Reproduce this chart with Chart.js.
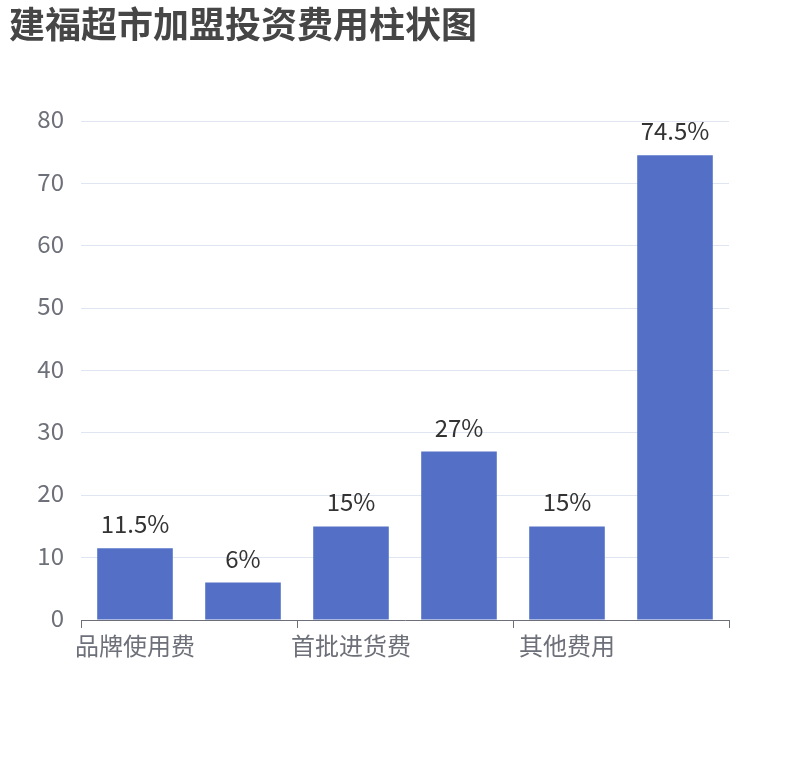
<!DOCTYPE html>
<html>
<head>
<meta charset="utf-8">
<script src="https://cdn.jsdelivr.net/npm/chart.js@4.4.1/dist/chart.umd.min.js"></script>
<style>
  html, body { margin: 0; padding: 0; background: #fff; }
  #wrap { width: 810px; height: 760px; }
</style>
</head>
<body>
<div id="wrap"><canvas id="chart" width="810" height="760"></canvas></div>
<script>
// 数据
const titleText = '建福超市加盟投资费用柱状图';
const categories = ['品牌使用费', '保证金', '首批进货费', '装修费', '其他费用', '合计'];
const values = [11.5, 6, 15, 27, 15, 74.5];
const yTicks = [0, 10, 20, 30, 40, 50, 60, 70, 80];

const FONT = '"Noto Sans CJK SC", "Noto Sans", sans-serif';

// 标题
const titlePlugin = {
    id: 'leftTitle',
    afterDraw(chart) {
        const ctx = chart.ctx;
        ctx.save();
        ctx.font = 'bold 36px ' + FONT;
        ctx.fillStyle = '#464646';
        ctx.textAlign = 'left';
        ctx.textBaseline = 'alphabetic';
        ctx.fillText(titleText, 9, 38);
        ctx.restore();
    }
};

// 柱顶标签
const barLabels = {
    id: 'barLabels',
    afterDatasetsDraw(chart) {
        const ctx = chart.ctx;
        const meta = chart.getDatasetMeta(0);
        ctx.save();
        ctx.font = '24px ' + FONT;
        ctx.fillStyle = '#333';
        ctx.textAlign = 'center';
        ctx.textBaseline = 'alphabetic';
        meta.data.forEach((bar, i) => {
            ctx.fillText(values[i] + '%', bar.x, bar.y - 15);
        });
        ctx.restore();
    }
};

new Chart(document.getElementById('chart'), {
    type: 'bar',
    data: {
        labels: categories,
        datasets: [{
            data: values,
            backgroundColor: '#5470C6',
            borderWidth: 0,
            barPercentage: 0.7,
            categoryPercentage: 1
        }]
    },
    options: {
        responsive: false,
        animation: false,
        devicePixelRatio: 1,
        layout: { padding: { top: 121, right: 81, bottom: 0, left: 0 } },
        plugins: {
            legend: { display: false },
            tooltip: { enabled: false }
        },
        scales: {
            x: {
                offset: true,
                grid: {
                    offset: true,
                    drawOnChartArea: false,
                    tickLength: 8,
                    color: (c) => (c.index === undefined || c.index % 2 === 0) ? '#6E7079' : 'rgba(0,0,0,0)'
                },
                border: { color: '#6E7079', width: 1 },
                ticks: {
                    autoSkip: false,
                    maxRotation: 0,
                    padding: 3,
                    color: '#6E7079',
                    font: { family: FONT, size: 24 },
                    callback: (v, i) => i % 2 === 0 ? categories[i] : ''
                },
                afterFit: (s) => { s.height = 140; }
            },
            y: {
                min: 0,
                max: 80,
                afterBuildTicks: (s) => { s.ticks = yTicks.map(v => ({ value: v })); },
                grid: { color: '#E0E6F1', drawTicks: false },
                border: { display: false },
                ticks: {
                    padding: 17,
                    labelOffset: -2,
                    color: '#6E7079',
                    font: { family: FONT, size: 24 }
                },
                afterFit: (s) => { s.width = 81; }
            }
        }
    },
    plugins: [titlePlugin, barLabels]
});
</script>
</body>
</html>
